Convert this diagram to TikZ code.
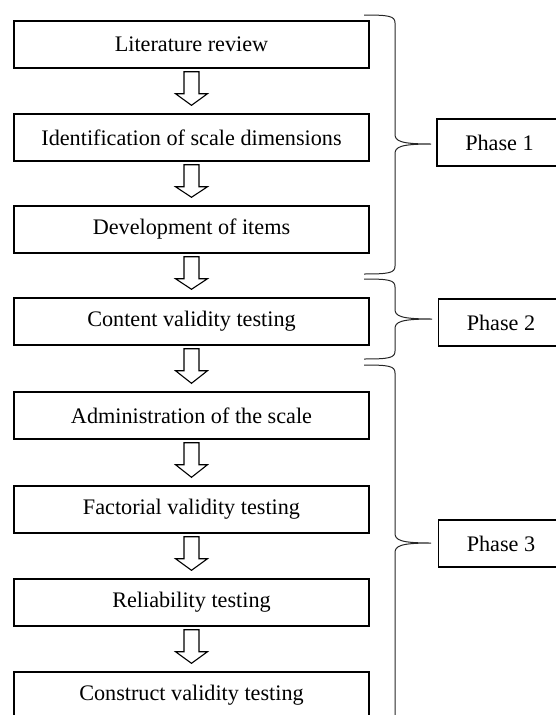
\documentclass[tikz,border=0pt]{standalone}
\usepackage{fontspec}
\setmainfont{Liberation Serif}
\usetikzlibrary{calc}
\newcommand{\hollowarrow}[2]{%
  \draw[flowarrow] ($(#1.south)+(-7.5,3)$) -- ($(#1.south)+(-7.5,25)$) -- ($(#1.south)+(-16,25)$)
    -- ($(#2.north)+(0,-8)$) -- ($(#1.south)+(16,25)$) -- ($(#1.south)+(7.5,25)$)
    -- ($(#1.south)+(7.5,3)$) -- cycle;}
\newcommand{\phasebrace}[4]{% ytop, ytip, ybot, tipx
  \draw[bracepath] (364,#1) .. controls (389,#1) and (395,#1+1) .. (395,#1+8)
    -- (395,#2-10) .. controls (395,#2-3) and (400,#2) .. (#4,#2)
    .. controls (400,#2) and (395,#2+3) .. (395,#2+10)
    -- (395,#3-8) .. controls (395,#3-1) and (389,#3) .. (364,#3);}
\begin{document}
\begin{tikzpicture}[x=1pt,y=-1pt,
  stepbox/.style={draw, line width=1.4pt, minimum width=355pt, minimum height=47pt,
    inner sep=0pt, font=\fontsize{22.2}{26}\selectfont},
  phasebox/.style={draw, line width=1.4pt, minimum width=125pt, minimum height=47pt,
    inner sep=0pt, font=\fontsize{22.2}{26}\selectfont},
  flowarrow/.style={draw, line width=1.1pt, fill=white, line join=miter},
  bracepath/.style={draw=black!85, line width=1pt}]
\useasboundingbox (0,0) rectangle (556,715);
\clip (0,0) rectangle (556,715);

\node[stepbox] (s1) at (191.5,44.5) {Literature review};
\node[stepbox] (s2) at (191.5,137.5) {Identification of scale dimensions};
\node[stepbox] (s3) at (191.5,229.5) {Development of items};
\node[stepbox] (s4) at (191.5,321.5) {Content validity testing};
\node[stepbox] (s5) at (191.5,415.5) {Administration of the scale};
\node[stepbox] (s6) at (191.5,509.5) {Factorial validity testing};
\node[stepbox] (s7) at (191.5,602.5) {Reliability testing};
\node[stepbox] (s8) at (191.5,695.5) {Construct validity testing};

\hollowarrow{s1}{s2}
\hollowarrow{s2}{s3}
\hollowarrow{s3}{s4}
\hollowarrow{s4}{s5}
\hollowarrow{s5}{s6}
\hollowarrow{s6}{s7}
\hollowarrow{s7}{s8}

\node[phasebox] (p1) at (499.5,142.5) {Phase 1};
\node[phasebox] (p2) at (501,322.5) {Phase 2};
\node[phasebox] (p3) at (501,543.5) {Phase 3};

\phasebrace{15}{144}{274}{431}
\phasebrace{279}{319}{359}{432}
\phasebrace{365}{543}{760}{431}
\end{tikzpicture}
\end{document}
